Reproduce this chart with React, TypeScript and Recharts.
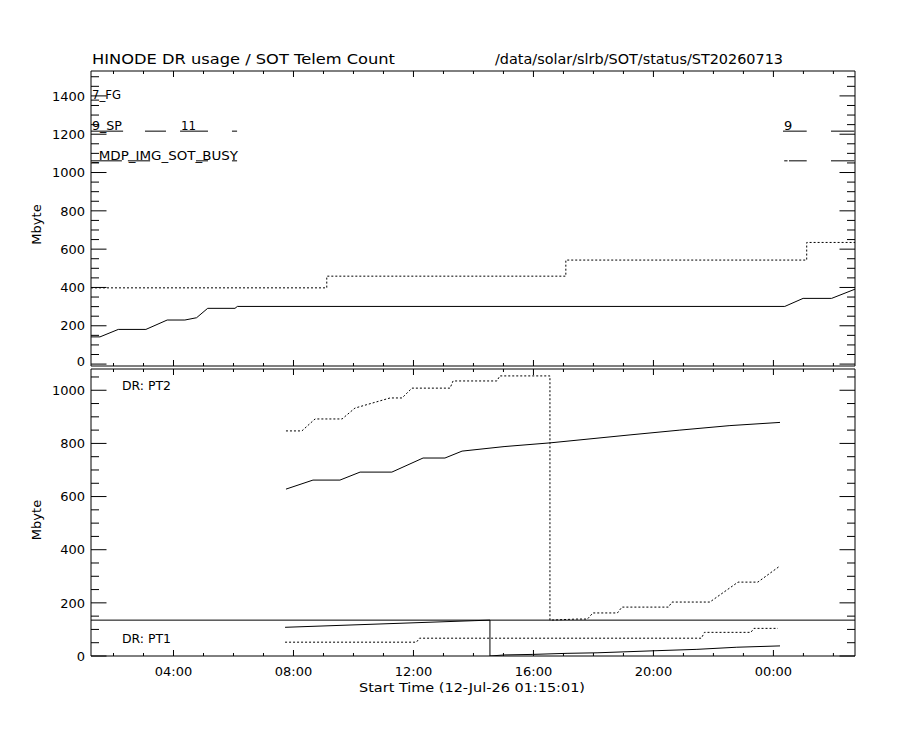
import React from 'react';
import { LineChart, Line, XAxis, YAxis, ReferenceLine } from 'recharts';

const FONT = '"DejaVu Sans", sans-serif';
const INK = '#000';

// x is hours since 12-Jul-26 00:00 (so 24 = 00:00 next day)
const X_DOMAIN = [1.25, 26.72];
const HOUR_TICKS = Array.from({ length: 25 }, (_, i) => i + 2);
const HOUR_LABELS = ['04:00', '08:00', '12:00', '16:00', '20:00', '00:00'];

const TOP_Y_DOMAIN = [-10, 1530];
const TOP_Y_TICKS = Array.from({ length: 31 }, (_, i) => i * 50);
const LOW_Y_DOMAIN = [0, 1080];
const LOW_Y_TICKS = Array.from({ length: 22 }, (_, i) => i * 50);

// --- top panel: SOT telem count (solid) and DR usage (dotted)
const telemHours = [1.25, 1.55, 2.16, 3.08, 3.79, 4.38, 4.77, 5.14, 6.05, 6.13, 24.38, 24.99, 25.94, 26.72];
const telemMb = [142, 142, 181, 181, 230, 230, 242, 291, 291, 301, 301, 343, 343, 391];
const usageHours = [1.25, 9.11, 9.11, 17.08, 17.08, 25.11, 25.11, 26.72];
const usageMb = [398, 398, 459, 459, 543, 543, 635, 635];

// event rows in the top panel (start/end hour, text at start)
const FG_START = [1.25];
const FG_END = [1.52];
const FG_TEXT = ['7_FG'];
const SP_START = [1.25, 3.05, 4.22, 5.95, 24.32, 25.92];
const SP_END = [2.32, 3.75, 5.15, 6.12, 25.11, 26.7];
const SP_TEXT = ['9_SP', '', '11', '', '9', ''];
const MDP_START = [1.25, 2.48, 4.75, 5.95, 24.36, 24.52, 25.92];
const MDP_END = [2.28, 3.22, 5.15, 6.12, 24.47, 25.11, 26.7];
const MDP_TEXT = ['_MDP_IMG_SOT_BUSY', '', '', '', '', '', ''];
const ROW_LEVEL = [1378, 1216, 1061]; // FG, SP, MDP

// --- lower panel: DR partitions
const pt2UsedHours = [7.75, 8.65, 9.55, 10.22, 11.28, 12.32, 13.05, 13.62, 15.02, 16.55, 19.22, 20.88, 22.55, 24.22];
const pt2UsedMb = [628, 662, 662, 692, 692, 745, 745, 771, 788, 802, 832, 850, 867, 879];
const pt2PeakHours = [7.75, 8.28, 8.72, 9.62, 10.05, 11.22, 11.62, 11.95, 13.22, 13.32, 14.78, 14.88, 16.55, 16.55, 17.45, 17.8, 17.98, 18.8, 18.95, 20.5, 20.62, 21.88, 22.82, 23.48, 24.22];
const pt2PeakMb = [847, 847, 892, 892, 933, 971, 971, 1008, 1008, 1035, 1035, 1054, 1054, 135, 139, 139, 162, 162, 184, 184, 203, 203, 278, 278, 339];
const pt1UsedHours = [7.72, 14.05, 14.55, 14.55, 15.05, 15.98, 17.12, 18.12, 19.12, 20.12, 21.45, 22.78, 24.22];
const pt1UsedMb = [108, 133, 135, 0, 4, 6, 10, 12, 16, 20, 25, 33, 38];
const pt1PeakHours = [7.72, 12.1, 12.2, 21.6, 21.7, 23.25, 23.35, 24.15];
const pt1PeakMb = [52, 52, 67, 67, 89, 89, 104, 104];
const PT_DIVIDER = 135;

const zip = (hs: number[], vs: number[]) => hs.map((h, i) => ({ h, v: vs[i] }));

const EVENT_TEXT_WIDTH: Record<string, number> = {
  '7_FG': 29,
  '9_SP': 30,
  '11': 15,
  _MDP_IMG_SOT_BUSY: 146,
};

function XTick(props: any) {
  const { x, y, payload, dir, len, labels } = props;
  const v = payload.value;
  const major = v % 4 === 0;
  return (
    <g>
      <line x1={x} x2={x} y1={y} y2={y + dir * (major ? len : len / 2)} stroke={INK} />
      {labels && major && (
        <text x={x} y={y + 19.5} textAnchor="middle" fontSize={13} fontFamily={FONT} fill={INK}>
          {HOUR_LABELS[v / 4 - 1]}
        </text>
      )}
    </g>
  );
}

function YTick(props: any) {
  const { x, y, payload, dir, labels, lift } = props;
  const v = payload.value;
  const major = v % 200 === 0;
  // the lowest label of the top panel sits a little higher, as in the source plot
  const dy = lift && v === 0 ? 2 : 4.7;
  return (
    <g>
      <line x1={x} x2={x + dir * (major ? 15.5 : 8)} y1={y} y2={y} stroke={INK} />
      {labels && major && (
        <text x={x - 6} y={y + dy} textAnchor="end" fontSize={13} fontFamily={FONT} fill={INK}>
          {v}
        </text>
      )}
    </g>
  );
}

function EventLabel(props: any) {
  const { viewBox, text } = props;
  if (!text || !viewBox) return null;
  const w = EVENT_TEXT_WIDTH[text];
  return (
    <text
      x={viewBox.x + 1}
      y={viewBox.y - 1}
      fontSize={13}
      fontFamily={FONT}
      fill={INK}
      textLength={w}
      lengthAdjust={w ? 'spacingAndGlyphs' : undefined}
    >
      {text}
    </text>
  );
}

function eventBars(starts: number[], ends: number[], texts: string[], level: number, key: string) {
  return starts.map((s, i) => (
    <ReferenceLine
      key={`${key}${i}`}
      segment={[
        { x: s, y: level },
        { x: ends[i], y: level },
      ]}
      stroke={INK}
      strokeWidth={1}
      ifOverflow="visible"
      label={texts[i] ? <EventLabel text={texts[i]} /> : undefined}
    />
  ));
}

function series(data: { h: number; v: number }[], dotted: boolean, key: string) {
  return (
    <Line
      key={key}
      data={data}
      dataKey="v"
      type="linear"
      stroke={INK}
      strokeWidth={1}
      strokeDasharray={dotted ? '2 2' : undefined}
      dot={false}
      activeDot={false}
      isAnimationActive={false}
    />
  );
}

function TopPanel() {
  return (
    <LineChart width={900} height={374} margin={{ top: 0, right: 0, bottom: 0, left: 0 }}>
      <XAxis
        type="number"
        dataKey="h"
        domain={X_DOMAIN}
        allowDataOverflow
        ticks={HOUR_TICKS}
        interval={0}
        height={8}
        tickSize={0}
        tickMargin={0}
        axisLine={{ stroke: INK }}
        tick={<XTick dir={-1} len={6} labels={false} />}
      />
      <XAxis
        xAxisId="t"
        orientation="top"
        type="number"
        dataKey="h"
        domain={X_DOMAIN}
        allowDataOverflow
        ticks={HOUR_TICKS}
        interval={0}
        height={71}
        tickSize={0}
        tickMargin={0}
        axisLine={{ stroke: INK }}
        tick={<XTick dir={1} len={6} labels={false} />}
      />
      <YAxis
        type="number"
        domain={TOP_Y_DOMAIN}
        allowDataOverflow
        ticks={TOP_Y_TICKS}
        interval={0}
        width={91}
        tickSize={0}
        tickMargin={0}
        axisLine={{ stroke: INK }}
        tick={<YTick dir={1} labels lift />}
      />
      <YAxis
        yAxisId="r"
        orientation="right"
        type="number"
        domain={TOP_Y_DOMAIN}
        allowDataOverflow
        ticks={TOP_Y_TICKS}
        interval={0}
        width={45}
        tickSize={0}
        tickMargin={0}
        axisLine={{ stroke: INK }}
        tick={<YTick dir={-1} labels={false} />}
      />
      {series(zip(telemHours, telemMb), false, 'telem')}
      {series(zip(usageHours, usageMb), true, 'usage')}
      {eventBars(FG_START, FG_END, FG_TEXT, ROW_LEVEL[0], 'fg')}
      {eventBars(SP_START, SP_END, SP_TEXT, ROW_LEVEL[1], 'sp')}
      {eventBars(MDP_START, MDP_END, MDP_TEXT, ROW_LEVEL[2], 'mdp')}
    </LineChart>
  );
}

function LowerPanel() {
  return (
    <LineChart width={900} height={362} margin={{ top: 0, right: 0, bottom: 0, left: 0 }}>
      <XAxis
        type="number"
        dataKey="h"
        domain={X_DOMAIN}
        allowDataOverflow
        ticks={HOUR_TICKS}
        interval={0}
        height={74}
        tickSize={0}
        tickMargin={0}
        axisLine={{ stroke: INK }}
        tick={<XTick dir={-1} len={6} labels />}
      />
      <XAxis
        xAxisId="t"
        orientation="top"
        type="number"
        dataKey="h"
        domain={X_DOMAIN}
        allowDataOverflow
        ticks={HOUR_TICKS}
        interval={0}
        height={1}
        tickSize={0}
        tickMargin={0}
        axisLine={{ stroke: INK }}
        tick={<XTick dir={1} len={6} labels={false} />}
      />
      <YAxis
        type="number"
        domain={LOW_Y_DOMAIN}
        allowDataOverflow
        ticks={LOW_Y_TICKS}
        interval={0}
        width={91}
        tickSize={0}
        tickMargin={0}
        axisLine={{ stroke: INK }}
        tick={<YTick dir={1} labels />}
      />
      <YAxis
        yAxisId="r"
        orientation="right"
        type="number"
        domain={LOW_Y_DOMAIN}
        allowDataOverflow
        ticks={LOW_Y_TICKS}
        interval={0}
        width={45}
        tickSize={0}
        tickMargin={0}
        axisLine={{ stroke: INK }}
        tick={<YTick dir={-1} labels={false} />}
      />
      <ReferenceLine y={PT_DIVIDER} stroke={INK} strokeWidth={1} />
      {series(zip(pt2UsedHours, pt2UsedMb), false, 'pt2u')}
      {series(zip(pt2PeakHours, pt2PeakMb), true, 'pt2p')}
      {series(zip(pt1UsedHours, pt1UsedMb), false, 'pt1u')}
      {series(zip(pt1PeakHours, pt1PeakMb), true, 'pt1p')}
    </LineChart>
  );
}

const txt = { fontFamily: FONT, fill: INK } as const;

export default function App() {
  return (
    <div style={{ position: 'absolute', left: 0, top: 0, width: 900, height: 730, background: '#fff' }}>
      <div style={{ position: 'absolute', left: 0, top: 0 }}>
        <TopPanel />
      </div>
      <div style={{ position: 'absolute', left: 0, top: 368 }}>
        <LowerPanel />
      </div>
      <svg width={900} height={730} style={{ position: 'absolute', left: 0, top: 0, pointerEvents: 'none' }}>
        <text x={92} y={63.5} fontSize={14.5} textLength={303} lengthAdjust="spacingAndGlyphs" {...txt}>
          HINODE DR usage / SOT Telem Count
        </text>
        <text x={495} y={64} fontSize={14} textLength={288} lengthAdjust="spacingAndGlyphs" {...txt}>
          /data/solar/slrb/SOT/status/ST20260713
        </text>
        <text x={122} y={390} fontSize={13} textLength={49} lengthAdjust="spacingAndGlyphs" {...txt}>
          DR: PT2
        </text>
        <text x={122} y={642.5} fontSize={13} textLength={49} lengthAdjust="spacingAndGlyphs" {...txt}>
          DR: PT1
        </text>
        <text x={359} y={692} fontSize={13} textLength={226} lengthAdjust="spacingAndGlyphs" {...txt}>
          Start Time (12-Jul-26 01:15:01)
        </text>
        <text transform="translate(41,224.5) rotate(-90)" textAnchor="middle" fontSize={13} {...txt}>
          Mbyte
        </text>
        <text transform="translate(41,520) rotate(-90)" textAnchor="middle" fontSize={13} {...txt}>
          Mbyte
        </text>
      </svg>
    </div>
  );
}
